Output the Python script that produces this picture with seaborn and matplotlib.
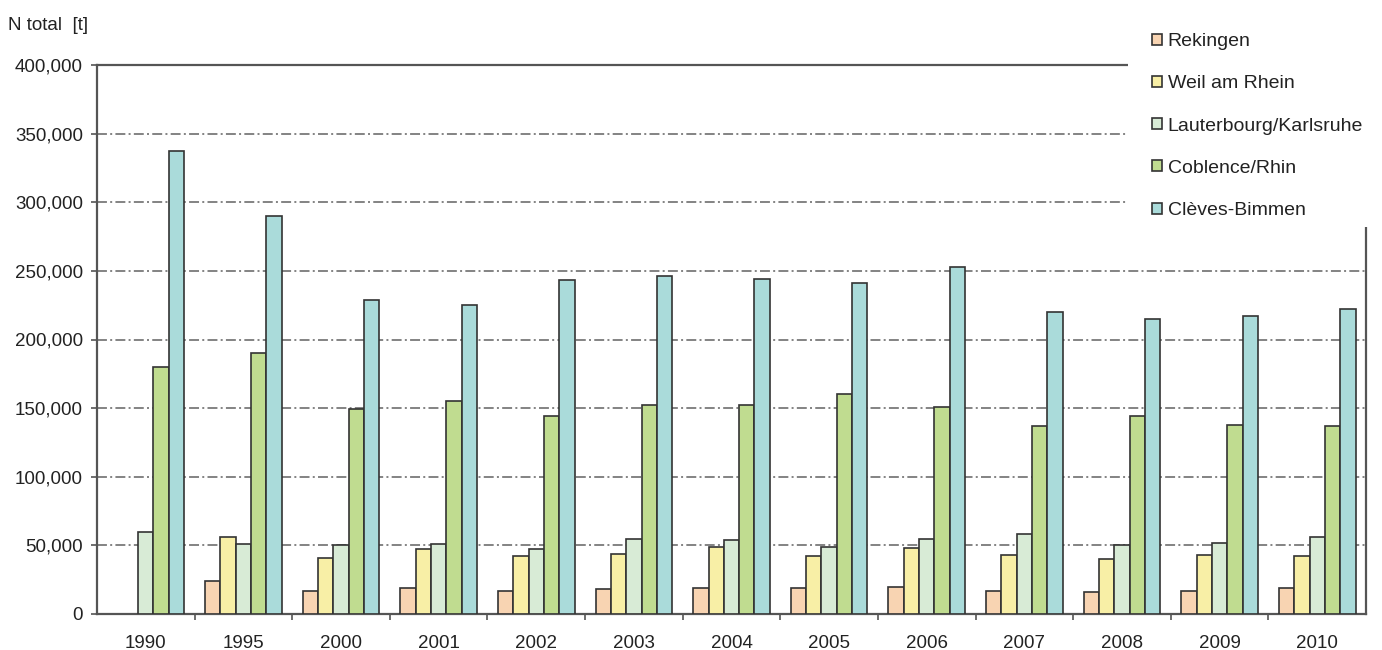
import numpy as np
import pandas as pd
import matplotlib
matplotlib.use("Agg")
import matplotlib.pyplot as plt
from matplotlib.patches import Rectangle
from matplotlib.ticker import FuncFormatter, FixedLocator
import seaborn as sns

# Annual nitrogen loads (N total, tonnes) at Rhine monitoring stations
years = ["1990", "1995", "2000", "2001", "2002", "2003", "2004",
         "2005", "2006", "2007", "2008", "2009", "2010"]
stations = ["Rekingen", "Weil am Rhein", "Lauterbourg/Karlsruhe",
            "Coblence/Rhin", "Clèves-Bimmen"]

rekingen = [np.nan, 24000, 17000, 19000, 17000, 18000, 19000,
            19000, 20000, 17000, 16000, 17000, 19000]
weil_am_rhein = [np.nan, 56000, 41000, 47000, 42000, 44000, 49000,
                 42000, 48000, 43000, 40000, 43000, 42000]
lauterbourg_karlsruhe = [60000, 51000, 50000, 51000, 47000, 55000, 54000,
                         49000, 55000, 58000, 50000, 52000, 56000]
coblence_rhin = [180000, 190000, 149000, 155000, 144000, 152000, 152000,
                 160000, 151000, 137000, 144000, 138000, 137000]
cleves_bimmen = [337000, 290000, 229000, 225000, 243000, 246000, 244000,
                 241000, 253000, 220000, 215000, 217000, 222000]

colors = ["#F8D4B2", "#F8EFA6", "#D8EBD6", "#C0DC90", "#AADBDA"]

df = pd.DataFrame({
    "year": np.tile(years, len(stations)),
    "station": np.repeat(stations, len(years)),
    "value": np.concatenate([rekingen, weil_am_rhein, lauterbourg_karlsruhe,
                             coblence_rhin, cleves_bimmen]),
})

sns.set_style("white")
plt.rcParams["font.family"] = ["Liberation Sans", "DejaVu Sans"]
plt.rcParams["text.color"] = "#222222"

fig = plt.figure(figsize=(13.82, 6.5), dpi=100)
ax = fig.add_axes([97 / 1382, 36 / 650, (1366 - 97) / 1382, (614 - 65) / 650])

sns.barplot(data=df, x="year", y="value", hue="station",
            order=years, hue_order=stations, palette=colors, saturation=1,
            width=0.785, edgecolor="#333333", linewidth=1.2,
            errorbar=None, ax=ax, legend=True, zorder=3)

ax.set_ylim(0, 400000)
ax.set_xlim(-0.5, len(years) - 0.5)
ax.set_yticks(np.arange(0, 400001, 50000))
ax.yaxis.set_major_formatter(FuncFormatter(lambda v, p: f"{int(v):,}"))
ax.set_xlabel("")
ax.set_ylabel("")

# dash-dot horizontal grid
ax.yaxis.grid(True, color="#7a7a7a", linewidth=1.3,
              linestyle=(0, (5.5, 1.8, 1.1, 1.8)), zorder=0)
ax.xaxis.grid(False)
ax.set_axisbelow(True)

for s in ax.spines.values():
    s.set_visible(True)
    s.set_color("#555555")
    s.set_linewidth(1.6)

ax.tick_params(axis="y", which="major", length=4, width=1.2, color="#555555",
               labelsize=13.5, pad=6, labelcolor="#222222", left=True)
ax.tick_params(axis="x", which="major", length=0, labelsize=13.5, pad=15,
               labelcolor="#222222")
ax.xaxis.set_minor_locator(FixedLocator(np.arange(0.5, len(years) - 1, 1.0)))
ax.tick_params(axis="x", which="minor", length=4, width=1.2, color="#555555",
               bottom=True)

# white block behind the legend in the upper right corner
fig.patches.append(Rectangle((1128 / 1382, (650 - 227) / 650),
                             1 - 1128 / 1382, 227 / 650,
                             transform=fig.transFigure, facecolor="white",
                             edgecolor="none", zorder=5))

handles, labels = ax.get_legend_handles_labels()
ax.get_legend().remove()
leg = fig.legend(handles, labels, loc="upper left",
                 bbox_to_anchor=(1152 / 1382, 1 - 33 / 650),
                 frameon=False, fontsize=14, handlelength=0.5,
                 handleheight=0.5, handletextpad=0.3, labelspacing=1.3,
                 borderpad=0, borderaxespad=0)
leg.set_zorder(6)

fig.text(8 / 1382, 1 - 25 / 650, "N total  [t]", fontsize=13.5,
         va="center", ha="left", color="#222222")

fig.savefig("out.png", dpi=100)
